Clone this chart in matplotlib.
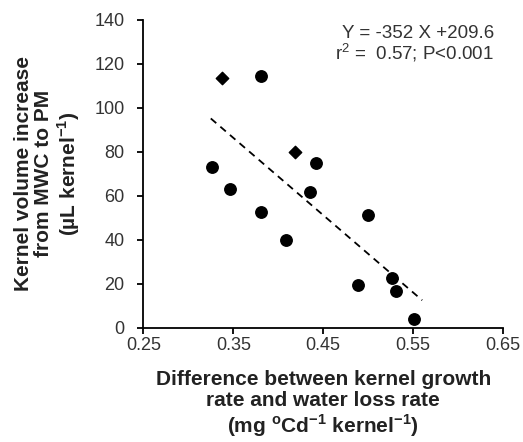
import numpy as np
import matplotlib
matplotlib.use("Agg")
import matplotlib.pyplot as plt

plt.rcParams['font.family'] = ['Liberation Sans', 'DejaVu Sans']

# circles
x_circ = [0.381, 0.326, 0.346, 0.381, 0.409, 0.435, 0.442, 0.500, 0.489, 0.526, 0.531, 0.551]
y_circ = [114.7, 73.3, 63.1, 52.7, 39.9, 61.6, 75.1, 51.4, 19.4, 22.8, 16.8, 3.8]
# diamonds
x_diam = [0.338, 0.419]
y_diam = [113.6, 79.8]

# regression
slope = -352
intercept = 209.6
fit_x = [0.325, 0.56]

xticks = [0.25, 0.35, 0.45, 0.55, 0.65]
yticks = [0, 20, 40, 60, 80, 100, 120, 140]

fig = plt.figure(figsize=(5.23, 4.42), dpi=100)
ax = fig.add_axes([0.274, 0.2586, 0.688, 0.6962])

fx = np.array(fit_x)
ax.plot(fx, slope * fx + intercept, color='black', linestyle=(0, (4, 3)), linewidth=1.3)
ax.scatter(x_circ, y_circ, s=68, color='black', marker='o', zorder=3)
ax.scatter(x_diam, y_diam, s=40, color='black', marker='D', zorder=3)

ax.set_xlim(0.25, 0.65)
ax.set_ylim(0, 140)
ax.set_xticks(xticks)
ax.set_xticklabels(['%.2f' % v for v in xticks])
ax.set_yticks(yticks)
ax.spines['top'].set_visible(False)
ax.spines['right'].set_visible(False)
ax.spines['left'].set_linewidth(1.3)
ax.spines['bottom'].set_linewidth(1.3)
ax.tick_params(direction='out', length=4.5, width=1.3, labelsize=13, labelcolor='#333333')
ax.tick_params(axis='x', pad=2)
ax.tick_params(axis='y', pad=9)

ax.set_xlabel('Difference between kernel growth\nrate and water loss rate\n(mg $^{\\mathregular{o}}$Cd$^{\\mathregular{-1}}$ kernel$^{\\mathregular{-1}}$)',
              fontsize=15, fontweight='bold', color='#222222', labelpad=12, linespacing=1.1)
ax.set_ylabel('Kernel volume increase\nfrom MWC to PM\n(\u00b5L kernel$^{\\mathregular{-1}}$)',
              fontsize=15, fontweight='bold', color='#222222', labelpad=9, linespacing=1.1)

ax.text(0.975, 0.985, 'Y = -352 X +209.6\nr$^{\\mathregular{2}}$ =  0.57; P<0.001', transform=ax.transAxes,
        ha='right', va='top', fontsize=13.5, color='#333333', linespacing=1.0)

fig.savefig('out.png', dpi=100)
